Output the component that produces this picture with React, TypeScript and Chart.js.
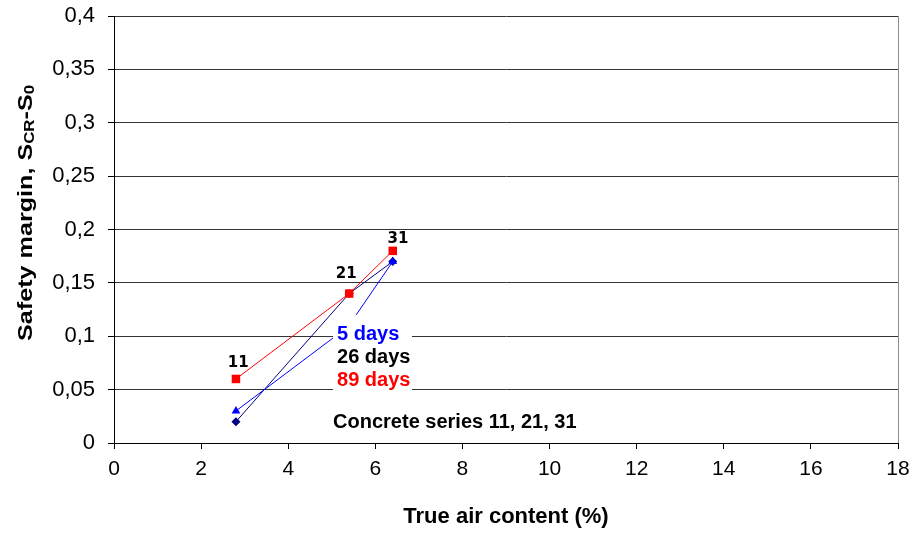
import React, { useEffect, useRef } from "react";
import { Chart, registerables } from "chart.js";

Chart.register(...registerables);

const FONT = '"Liberation Sans", Arial, sans-serif';
const NUM_FONT = '"DejaVu Sans", Verdana, sans-serif';

// ---- data ----
const airContent = [2.8, 5.4, 6.4];
const seriesNames = ["11", "21", "31"];
const margin89 = [0.06, 0.14, 0.18];
const margin26 = [0.02, 0.14, 0.17];
const margin5Air = [2.8, 6.4];
const margin5 = [0.03, 0.17];
const xTickValues = [0, 2, 4, 6, 8, 10, 12, 14, 16, 18];
const yTickValues = [0, 0.05, 0.1, 0.15, 0.2, 0.25, 0.3, 0.35, 0.4];
const legendTexts = ["5 days", "26 days", "89 days"];
const legendColors = ["#0000ff", "#000000", "#ff0000"];
const noteText = "Concrete series 11, 21, 31";
const xTitle = "True air content (%)";

// ---- annotation anchors (data units) ----
const seriesLabelAnchors = [
  { x: 2.85, y: 0.0712 },
  { x: 5.33, y: 0.1546 },
  { x: 6.52, y: 0.1874 },
];
const legendBox = { x0: 5.03, x1: 6.84, y0: 0.0468, y1: 0.1133 };
const legendAnchor = { x: 5.12, y: 0.0965 };
const noteAnchor = { x: 5.03, y: 0.014 };
const arrowStarts = [
  { x: 5.03, y: 0.0984 },
  { x: 5.56, y: 0.12 },
];

const annotationPlugin = {
  id: "annotations",
  afterDatasetsDraw(chart: any) {
    const { ctx, scales } = chart;
    const xs = scales.x;
    const ys = scales.y;
    const px = (v: number) => xs.getPixelForValue(v);
    const py = (v: number) => ys.getPixelForValue(v);
    ctx.save();

    // white label box
    ctx.fillStyle = "#ffffff";
    const bx0 = px(legendBox.x0);
    const bx1 = px(legendBox.x1);
    const by0 = py(legendBox.y1);
    const by1 = py(legendBox.y0);
    ctx.fillRect(bx0, by0, bx1 - bx0, by1 - by0);

    // leader lines to 5-day points
    ctx.strokeStyle = "#0000ff";
    ctx.lineWidth = 1;
    arrowStarts.forEach((s, i) => {
      ctx.beginPath();
      ctx.moveTo(px(s.x), py(s.y));
      ctx.lineTo(px(margin5Air[i]), py(margin5[i]));
      ctx.stroke();
    });

    // legend texts
    ctx.font = `bold 20px ${FONT}`;
    ctx.textAlign = "left";
    ctx.textBaseline = "alphabetic";
    legendTexts.forEach((t, i) => {
      ctx.fillStyle = legendColors[i];
      ctx.fillText(t, px(legendAnchor.x), py(legendAnchor.y) + i * 23);
    });

    // note
    ctx.fillStyle = "#000000";
    ctx.fillText(noteText, px(noteAnchor.x), py(noteAnchor.y));

    // series labels
    ctx.font = `bold 15px ${NUM_FONT}`;
    ctx.textAlign = "center";
    seriesNames.forEach((t, i) => {
      ctx.fillText(t, px(seriesLabelAnchors[i].x), py(seriesLabelAnchors[i].y));
    });
    ctx.restore();
  },
  afterDraw(chart: any) {
    const { ctx, chartArea } = chart;
    ctx.save();
    // right border
    ctx.strokeStyle = "#8c8c8c";
    ctx.lineWidth = 1;
    ctx.beginPath();
    ctx.moveTo(Math.round(chartArea.right) + 0.5, chartArea.top);
    ctx.lineTo(Math.round(chartArea.right) + 0.5, chartArea.bottom);
    ctx.stroke();

    // x title
    ctx.fillStyle = "#000";
    ctx.font = `bold 22px ${FONT}`;
    ctx.textAlign = "center";
    ctx.textBaseline = "alphabetic";
    ctx.fillText(xTitle, (chartArea.left + chartArea.right) / 2, 523);

    // y title with subscripts
    const parts = [
      { t: "Safety margin, S", sub: false },
      { t: "CR", sub: true },
      { t: "-S", sub: false },
      { t: "0", sub: true },
    ];
    const mainFont = `bold 21px ${FONT}`;
    const subFont = `bold 14px ${FONT}`;
    let total = 0;
    const widths = parts.map((p) => {
      ctx.font = p.sub ? subFont : mainFont;
      const w = ctx.measureText(p.t).width;
      total += w;
      return w;
    });
    const targetLen = 256;
    ctx.translate(32, 213);
    ctx.rotate(-Math.PI / 2);
    ctx.scale(targetLen / total, 1);
    ctx.textAlign = "left";
    let x = -total / 2;
    parts.forEach((p, i) => {
      ctx.font = p.sub ? subFont : mainFont;
      ctx.fillText(p.t, x, p.sub ? 2 : 0);
      x += widths[i];
    });
    ctx.restore();
  },
};

const fmt = (v: number) => String(Math.round(v * 100) / 100).replace(".", ",");

const zeroPad = (s: any) => {
  s.paddingTop = 0;
  s.paddingBottom = 0;
  s.paddingLeft = 0;
  s.paddingRight = 0;
};

export default function App() {
  const ref = useRef<HTMLCanvasElement | null>(null);
  useEffect(() => {
    if (!ref.current) return;
    const chart = new Chart(ref.current, {
      type: "scatter",
      data: {
        datasets: [
          {
            label: "89 days",
            data: airContent.map((x, i) => ({ x, y: margin89[i] })),
            showLine: true,
            borderColor: "#ff0000",
            backgroundColor: "#ff0000",
            borderWidth: 1,
            pointStyle: "rect",
            pointRadius: 6,
            pointBorderWidth: 0,
          },
          {
            label: "5 days",
            data: margin5Air.map((x, i) => ({ x, y: margin5[i] })),
            showLine: false,
            borderColor: "#0000ff",
            backgroundColor: "#0000ff",
            pointStyle: "triangle",
            pointRadius: 5,
            pointBorderWidth: 0,
          },
          {
            label: "26 days",
            data: airContent.map((x, i) => ({ x, y: margin26[i] })),
            showLine: true,
            borderColor: "#000080",
            backgroundColor: "#000080",
            borderWidth: 1,
            pointStyle: "rectRot",
            pointRadius: 4.5,
            pointBorderWidth: 0,
          },
        ],
      },
      options: {
        animation: false,
        responsive: false,
        events: [],
        layout: { padding: { top: 16, right: 16, left: 0, bottom: 0 } },
        plugins: {
          legend: { display: false },
          tooltip: { enabled: false },
        },
        scales: {
          x: {
            type: "linear",
            min: 0,
            max: 18,
            afterBuildTicks: (s: any) => {
              s.ticks = xTickValues.map((v) => ({ value: v }));
            },
            afterFit: (s: any) => {
              s.height = 90;
              zeroPad(s);
            },
            ticks: {
              font: { family: FONT, size: 21 },
              color: "#000",
              padding: 8,
              maxRotation: 0,
              callback: (v: any) => fmt(Number(v)),
            },
            grid: {
              drawOnChartArea: false,
              tickLength: 6,
              tickColor: "#000",
            },
            border: { color: "#000", width: 1 },
          },
          y: {
            type: "linear",
            min: 0,
            max: 0.4,
            afterBuildTicks: (s: any) => {
              s.ticks = yTickValues.map((v) => ({ value: v }));
            },
            afterFit: (s: any) => {
              s.width = 114;
              zeroPad(s);
            },
            ticks: {
              font: { family: FONT, size: 22 },
              color: "#000",
              padding: 13,
              callback: (v: any) => fmt(Number(v)),
            },
            grid: {
              color: "#333333",
              tickLength: 6,
              tickColor: "#000",
            },
            border: { color: "#000", width: 1 },
          },
        },
      },
      plugins: [annotationPlugin],
    } as any);
    return () => chart.destroy();
  }, []);
  return (
    <div style={{ position: "fixed", left: 0, top: 0, width: 914, height: 533, background: "#fff" }}>
      <canvas ref={ref} width={914} height={533} />
    </div>
  );
}
